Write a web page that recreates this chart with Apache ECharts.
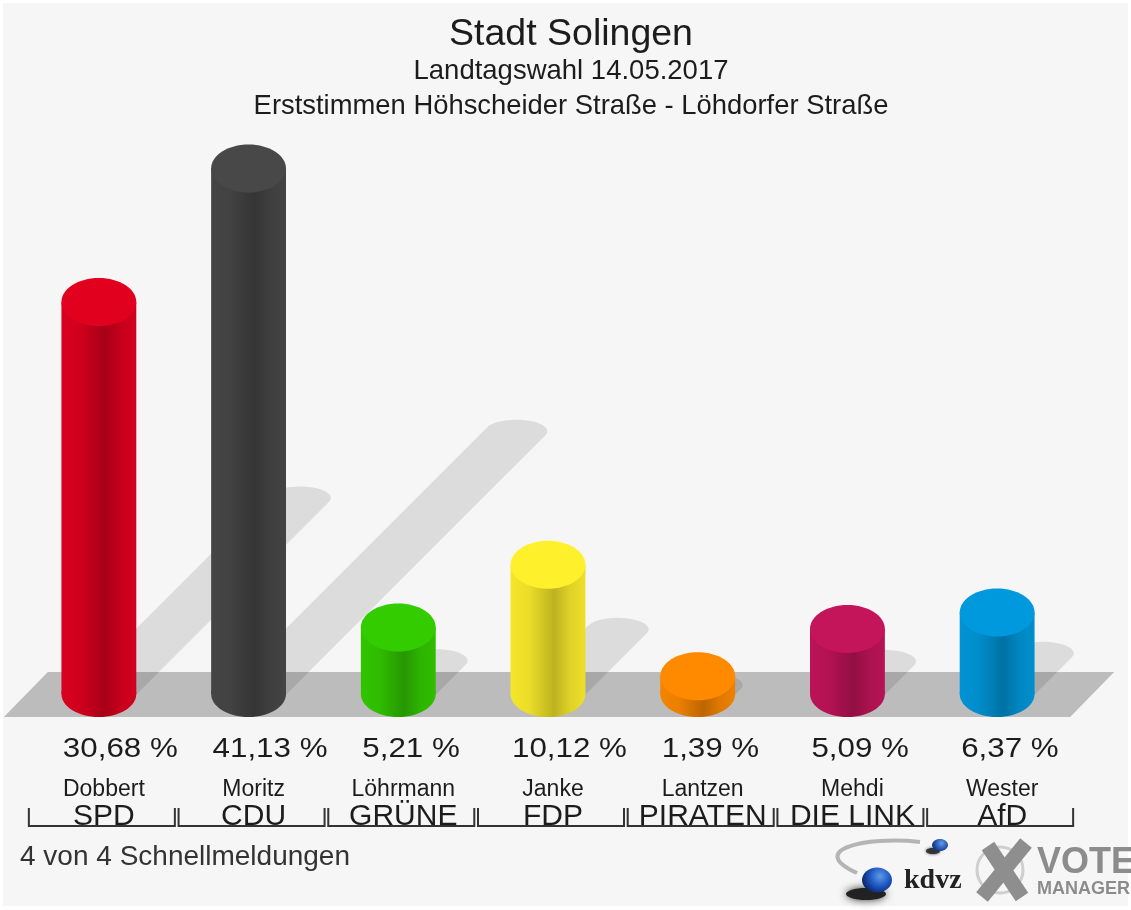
<!DOCTYPE html>
<html><head><meta charset="utf-8">
<style>html,body{margin:0;padding:0;background:#fff}#c{width:1131px;height:910px}</style>
<script src="https://cdn.jsdelivr.net/npm/echarts@6/dist/echarts.min.js"></script>
</head><body><div id="c"></div>
<script>
const candidates = ['Dobbert','Moritz','Löhrmann','Janke','Lantzen','Mehdi','Wester'];
const parties = ['SPD','CDU','GRÜNE','FDP','PIRATEN','DIE LINK','AfD'];
const values = [30.68,41.13,5.21,10.12,1.39,5.09,6.37];
const valueLabels = ['30,68 %','41,13 %','5,21 %','10,12 %','1,39 %','5,09 %','6,37 %'];
const palette = ['#e2001f','#484848','#33cc00','#fff02c','#ff8a00','#c4145a','#0099dd'];

const FONT = '"Liberation Sans", Arial, sans-serif';
const RY = 23;
function shade(hex, f){
  const n = parseInt(hex.slice(1),16);
  const c = [n>>16&255,n>>8&255,n&255].map(v=>Math.round(v*f));
  return 'rgb('+c.join(',')+')';
}
function bodyFill(hex){
  return {type:'linear',x:0,y:0,x2:1,y2:0,colorStops:[
    {offset:0,color:shade(hex,0.96)},{offset:0.25,color:shade(hex,0.92)},
    {offset:0.58,color:shade(hex,0.74)},{offset:0.8,color:shade(hex,0.88)},{offset:1,color:shade(hex,0.93)}]};
}
function renderFloor(params, api){
  const a = api.coord([0,0]), b = api.coord([6,0]);
  return {type:'polygon',shape:{points:[[a[0]-95,a[1]+23],[a[0]-51,a[1]-22],[b[0]+117,b[1]-22],[b[0]+73,b[1]+23]]},
    style:{fill:'#bcbcbc'}};
}
function renderShadow(params, api){
  const base = api.coord([api.value(0),0]), top = api.coord([api.value(0),api.value(1)]);
  const d = (base[1]-top[1])*0.5, rx=31, ry=11.5;
  const bx = base[0]+5, by = base[1], ex = bx+d, ey = by-d;
  const pts=[], start=Math.atan2(ry,rx);
  for(let k=0;k<=24;k++){const t=start-Math.PI*k/24;pts.push([ex+rx*Math.cos(t),ey+ry*Math.sin(t)]);}
  for(let k=0;k<=24;k++){const t=start+Math.PI-Math.PI*k/24;pts.push([bx+rx*Math.cos(t),by+ry*Math.sin(t)]);}
  return {type:'polygon',shape:{points:pts},style:{fill:'rgba(0,0,0,0.105)'}};
}
function renderCylinder(params, api){
  const i = api.value(0);
  const base = api.coord([i,0]), top = api.coord([i,api.value(1)]);
  const rx = api.size([1,0])[0]/4, col = palette[i];
  return {type:'group',children:[
    {type:'ellipse',shape:{cx:base[0],cy:base[1],rx:rx,ry:RY},style:{fill:bodyFill(col)}},
    {type:'rect',shape:{x:base[0]-rx,y:top[1],width:rx*2,height:base[1]-top[1]},style:{fill:bodyFill(col)}},
    {type:'ellipse',shape:{cx:top[0],cy:top[1],rx:rx,ry:RY+1},style:{fill:col}},
    {type:'text',x:base[0]-36,y:base[1]+56,scaleX:1.16,style:{text:valueLabels[i],align:'left',verticalAlign:'middle',
      font:'27px '+FONT,fill:'#1c1c1c'}}
  ]};
}
function renderBracket(params, api){
  const p = api.coord([api.value(0),0]);
  const y0=p[1]+114,y1=p[1]+132,l=p[0]-70,r=p[0]+76;
  return {type:'polyline',shape:{points:[[l,y0],[l,y1],[r,y1],[r,y0]]},style:{stroke:'#333',lineWidth:2,fill:null}};
}
const idx = values.map((v,i)=>[i,v]);
function titleItem(text,top,size){
  return {text:text,left:566,top:top,textAlign:'center',textStyle:{fontFamily:FONT,fontSize:size,fontWeight:'normal',color:'#1c1c1c'}};
}
const chart = echarts.init(document.getElementById('c'),null,{renderer:'canvas'});
chart.setOption({
  animation:false,
  backgroundColor:'#ffffff',
  title:[titleItem('Stadt Solingen',11,37.5),titleItem('Landtagswahl 14.05.2017',52,27.5),titleItem('Erststimmen Höhscheider Straße - Löhdorfer Straße',88,27.4)],
  grid:{left:24,top:119,width:1048,height:575},
  xAxis:{type:'category',data:candidates,axisLine:{show:false},axisTick:{show:false},splitLine:{show:false},
    axisLabel:{interval:0,margin:83,color:'#1c1c1c',fontFamily:FONT,
      formatter:(v,i)=>'{n|'+v+'}\n{p|'+parties[i]+'}',
      rich:{n:{fontSize:23,lineHeight:26,fontFamily:FONT,color:'#1c1c1c',padding:[0,0,0,10]},
            p:{fontSize:30,lineHeight:28,fontFamily:FONT,color:'#1c1c1c',padding:[0,0,0,10]}}}},
  yAxis:{type:'value',min:0,max:45,show:false,splitLine:{show:false}},
  graphic:{elements:[
    {type:'rect',z:-10,silent:true,shape:{x:3,y:3,width:1125,height:903},style:{fill:'#f6f6f6'}},
    {type:'text',left:20,top:843,style:{text:'4 von 4 Schnellmeldungen',font:'28px '+FONT,fill:'#333'}},
    // kdvz logo
    {type:'bezierCurve',z:5,shape:{x1:920,y1:842,cpx1:865,cpy1:836,cpx2:806,cpy2:850,x2:857,y2:873},style:{fill:'none',stroke:'#b4b4b4',lineWidth:4}},
    {type:'ellipse',z:5,shape:{cx:866,cy:894,rx:20,ry:6},style:{fill:'#222',shadowBlur:9,shadowColor:'#333'}},
    {type:'ellipse',z:5,shape:{cx:877,cy:880,rx:15,ry:12.5},style:{fill:{type:'radial',x:0.6,y:0.35,r:0.7,colorStops:[{offset:0,color:'#5f9be8'},{offset:0.6,color:'#1d55c0'},{offset:1,color:'#0c2a70'}]}}},
    {type:'ellipse',z:5,shape:{cx:933,cy:851,rx:7,ry:3},style:{fill:'#333',shadowBlur:3,shadowColor:'#333'}},
    {type:'ellipse',z:5,shape:{cx:940,cy:845,rx:8,ry:6},style:{fill:{type:'radial',x:0.6,y:0.35,r:0.7,colorStops:[{offset:0,color:'#5f9be8'},{offset:1,color:'#123a90'}]}}},
    {type:'text',z:5,left:904,top:867,style:{text:'kdvz',font:'bold 28px "Liberation Serif", serif',fill:'#222'}},
    // vote manager logo
    {type:'circle',z:5,shape:{cx:1000,cy:870,r:23},style:{fill:'none',stroke:'#cfcfcf',lineWidth:3}},
    {type:'line',z:5,shape:{x1:988,y1:846,x2:1022,y2:897},style:{stroke:'#8e8e8e',lineWidth:15}},
    {type:'line',z:5,shape:{x1:1026,y1:843,x2:982,y2:897},style:{stroke:'#8e8e8e',lineWidth:15}},
    {type:'text',z:5,left:1037,top:845,style:{text:'VOTE',font:'bold 36px '+FONT,fill:'#8c8c8c'}},
    {type:'text',z:5,left:1037,top:880,style:{text:'MANAGER',font:'bold 18px '+FONT,fill:'#8c8c8c'}}
  ]},
  series:[
    {type:'custom',name:'floor',z:1,silent:true,renderItem:renderFloor,data:[[0,0]],clip:false},
    {type:'custom',name:'shadow',z:2,silent:true,renderItem:renderShadow,data:idx,clip:false},
    {type:'custom',name:'cylinders',z:3,silent:true,renderItem:renderCylinder,data:idx,clip:false},
    {type:'custom',name:'brackets',z:3,silent:true,renderItem:renderBracket,data:idx,clip:false}
  ]
});
</script></body></html>
